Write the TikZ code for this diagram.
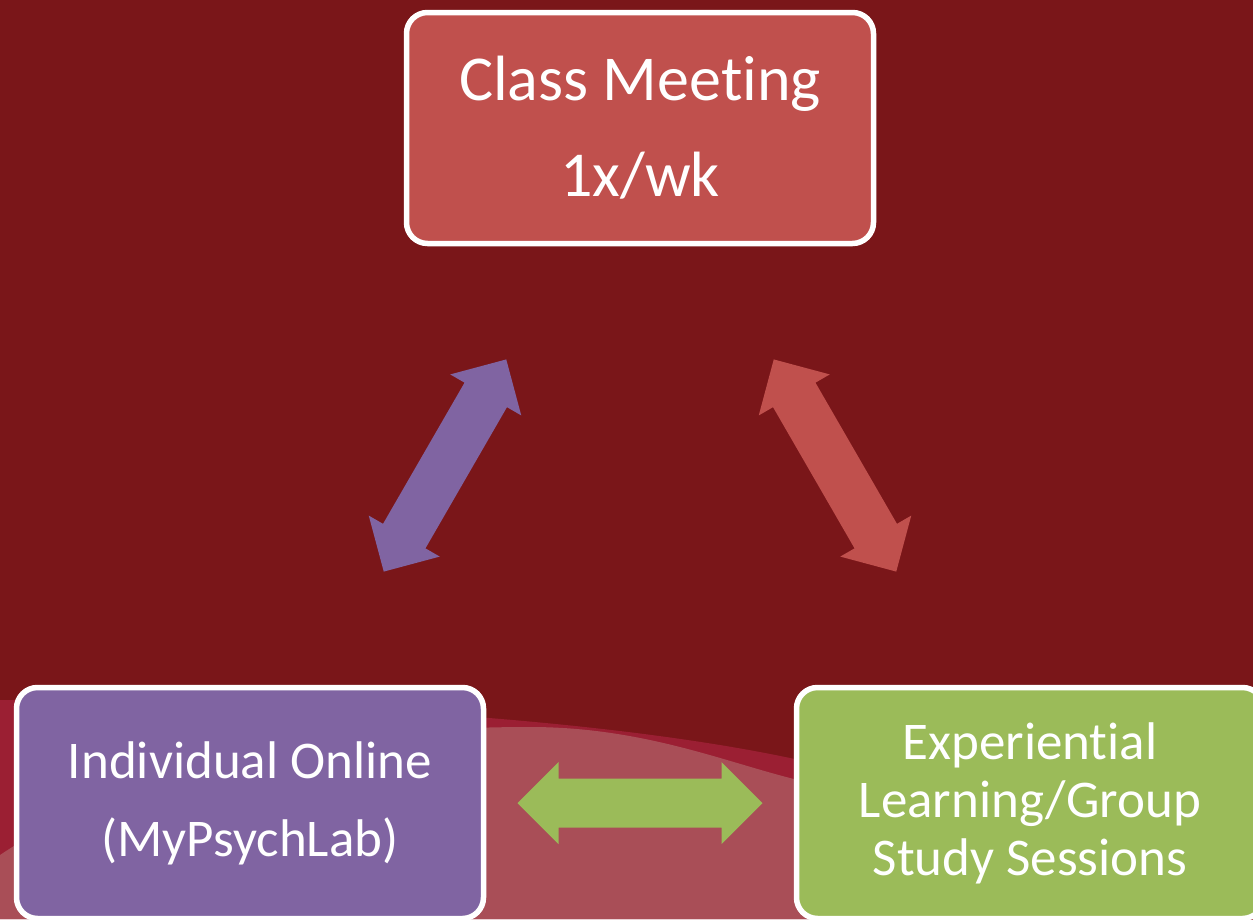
\documentclass[tikz,border=0pt]{standalone}
\usepackage{fontspec}
\setmainfont[Ligatures={NoCommon}]{Carlito}
\usetikzlibrary{calc}
\definecolor{bgC}{HTML}{7A1619}
\definecolor{bandC}{HTML}{9B1F33}
\definecolor{lightC}{HTML}{A94E57}
\definecolor{redC}{HTML}{C0504D}
\definecolor{purpleC}{HTML}{8064A2}
\definecolor{greenC}{HTML}{9BBB59}
\tikzset{
  box/.style={draw=white, line width=5.5pt, rounded corners=21pt,
    minimum width=467pt, minimum height=231pt, align=center,
    text=white, inner sep=0pt},
  pics/dblarrow/.style={code={
    \fill[#1] (-122.5,0) -- (-81.5,41) -- (-81.5,24.5) -- (81.5,24.5)
      -- (81.5,41) -- (122.5,0) -- (81.5,-41) -- (81.5,-24.5)
      -- (-81.5,-24.5) -- (-81.5,-41) -- cycle;}}
}
\begin{document}
\begin{tikzpicture}[x=1pt,y=-1pt]
\useasboundingbox (0,0) rectangle (1253,919);
\clip (0,0) rectangle (1253,919);
% background
\fill[bgC] (0,0) rectangle (1253,919);
\fill[bandC] (0,700) .. controls (300,700) and (600,718) .. (790,758)
  .. controls (1000,802) and (1150,850) .. (1253,890) -- (1253,919) -- (0,919) -- cycle;
\fill[lightC] (0,855) .. controls (150,755) and (350,727) .. (530,727)
  .. controls (640,727) and (720,760) .. (790,778)
  .. controls (950,820) and (1150,900) .. (1253,945) -- (1253,919) -- (0,919) -- cycle;
% boxes
\node[box, fill=redC, font=\fontsize{64}{96}\selectfont] (top) at (640,128) {Class Meeting\\1x/wk};
\node[box, fill=purpleC, font=\fontsize{53}{78}\selectfont] (left) at (250,803) {Individual Online\\(MyPsychLab)};
\node[box, fill=greenC, font=\fontsize{53}{58}\selectfont] (right) at (1030,803) {Experiential\\Learning/Group\\Study Sessions};
% arrows
\pic[rotate=60] at ($(left)!0.5!(top)$) {dblarrow=purpleC};
\pic[rotate=-60] at ($(right)!0.5!(top)$) {dblarrow=redC};
\pic at ($(left)!0.5!(right)$) {dblarrow=greenC};
\end{tikzpicture}
\end{document}
